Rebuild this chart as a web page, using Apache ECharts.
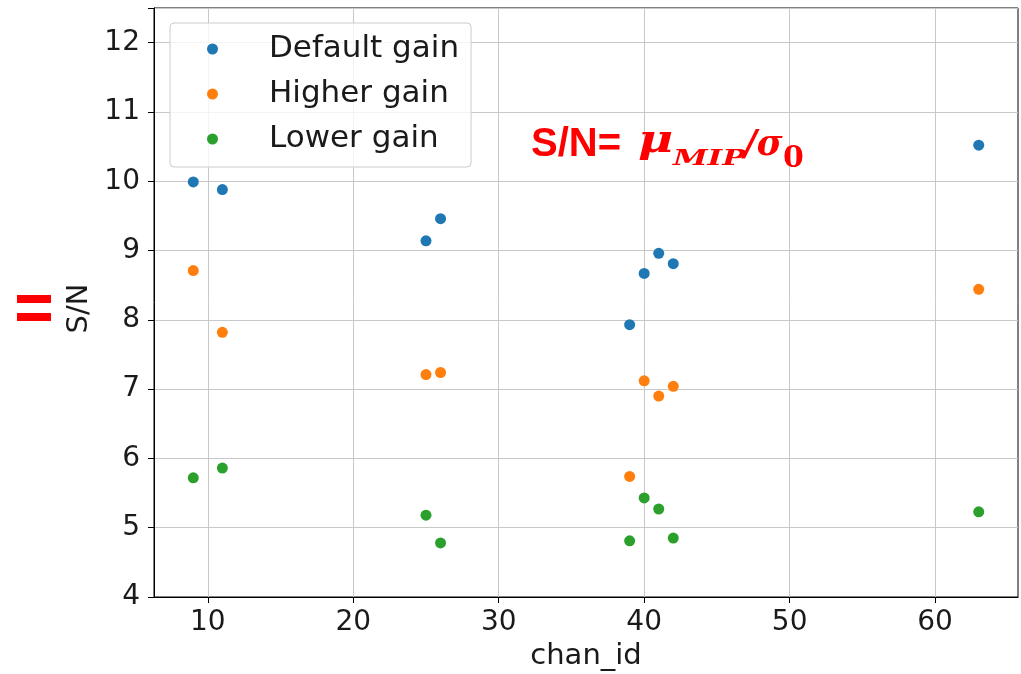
<!DOCTYPE html>
<html>
<head>
<meta charset="utf-8">
<script src="https://cdn.jsdelivr.net/npm/echarts@6/dist/echarts.min.js"></script>
<style>
  html, body { margin: 0; padding: 0; background: #fff; }
  #chart { width: 1021px; height: 674px; }
</style>
</head>
<body>
<div id="chart"></div>
<script>
// Channel ids and signal-to-noise per gain setting
const chanIds = [9, 11, 25, 26, 39, 40, 41, 42, 63];
const defaultGain = [9.99, 9.88, 9.14, 9.46, 7.93, 8.67, 8.96, 8.81, 10.52];
const higherGain  = [8.71, 7.82, 7.21, 7.24, 5.74, 7.12, 6.90, 7.04, 8.44];
const lowerGain   = [5.72, 5.86, 5.18, 4.78, 4.81, 5.43, 5.27, 4.85, 5.23];
const seriesNames = ['Default gain', 'Higher gain', 'Lower gain'];
const seriesColors = ['#1f77b4', '#ff7f0e', '#2ca02c'];
const xTicks = [10, 20, 30, 40, 50, 60];

const pairs = vals => chanIds.map((c, i) => [c, vals[i]]);
const allSeries = [defaultGain, higherGain, lowerGain];

const font = 'DejaVu Sans';
const textColor = '#1a1a1a';
const fs = 28;
const red = '#ff0000';
const mathFont = '"DejaVu Serif"';

const chart = echarts.init(document.getElementById('chart'), null, { renderer: 'canvas' });
chart.setOption({
  animation: false,
  backgroundColor: '#fff',
  grid: {
    left: 154, right: 3, top: 8, bottom: 77,
    outerBoundsMode: 'none', containLabel: false,
    show: true, borderColor: '#000', borderWidth: 1
  },
  legend: {
    orient: 'vertical',
    left: 170, top: 23,
    padding: [10, 12, 12, 37],
    itemWidth: 11, itemHeight: 11,
    itemGap: 13,
    backgroundColor: 'rgba(255,255,255,0.8)',
    borderColor: '#cccccc', borderWidth: 1, borderRadius: 4,
    textStyle: {
      fontFamily: font, fontSize: 31, color: textColor,
      lineHeight: 32, padding: [0, 0, 0, 46]
    },
    data: seriesNames.map(n => ({ name: n, icon: 'circle' }))
  },
  xAxis: {
    type: 'value',
    min: 6.3, max: 65.7,
    name: 'chan_id', nameLocation: 'middle', nameGap: 44,
    nameTextStyle: { fontFamily: font, fontSize: 29, color: textColor },
    axisLine: { show: true, lineStyle: { color: '#000', width: 1 } },
    axisTick: { show: true, length: 6, lineStyle: { color: '#000' }, customValues: xTicks },
    axisLabel: { fontFamily: font, fontSize: fs, color: textColor, margin: 12, customValues: xTicks },
    splitLine: { show: true, lineStyle: { color: '#c8c8c8', width: 1 } }
  },
  yAxis: {
    type: 'value',
    min: 4, max: 12.5, interval: 1,
    name: 'S/N', nameLocation: 'middle', nameGap: 52, nameRotate: 90,
    nameTextStyle: { fontFamily: font, fontSize: 29, color: textColor, padding: [0, 12, 0, 0] },
    axisLine: { show: true, lineStyle: { color: '#000', width: 1 } },
    axisTick: { show: true, length: 6, lineStyle: { color: '#000' } },
    axisLabel: {
      fontFamily: font, fontSize: fs, color: textColor, margin: 14,
      formatter: v => (Math.abs(v % 1) < 1e-9 ? String(v) : '')
    },
    splitLine: { show: true, lineStyle: { color: '#c8c8c8', width: 1 } }
  },
  series: allSeries.map((vals, i) => ({
    name: seriesNames[i],
    type: 'scatter',
    symbol: 'circle',
    symbolSize: 11,
    itemStyle: { color: seriesColors[i], opacity: 1 },
    data: pairs(vals),
    z: 3
  })),
  graphic: [
    // formula annotation: S/N = mu_MIP / sigma_0
    { type: 'text', left: 531, top: 125, z: 10,
      style: { text: 'S/N=', fill: red, font: 'bold 40px "Liberation Sans"' } },
    { type: 'text', x: 638, y: 142, z: 10, scaleX: 1.2, originX: 0, originY: 0,
      style: { text: 'μ', fill: red, font: 'italic bold 40px ' + mathFont, verticalAlign: 'middle' } },
    { type: 'text', x: 673, y: 159, z: 10, scaleX: 1.36, originX: 0, originY: 0,
      style: { text: 'MIP', fill: red, font: 'italic bold 23px ' + mathFont, verticalAlign: 'middle' } },
    { type: 'text', x: 744, y: 146, z: 10,
      style: { text: '/σ', fill: red, font: 'italic bold 35px ' + mathFont, verticalAlign: 'middle' } },
    { type: 'text', x: 783, y: 159, z: 10,
      style: { text: '0', fill: red, font: 'bold 30px ' + mathFont, verticalAlign: 'middle' } },
    // red equals sign beside the axis title
    { type: 'rect', shape: { x: 17, y: 295, width: 34, height: 8 }, style: { fill: red } },
    { type: 'rect', shape: { x: 17, y: 313, width: 34, height: 8 }, style: { fill: red } }
  ]
});
</script>
</body>
</html>
